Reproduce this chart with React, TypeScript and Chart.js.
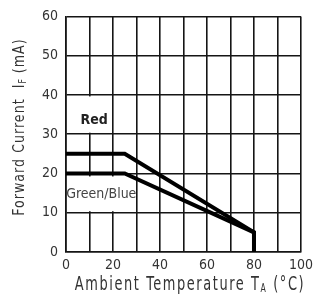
import React, { useEffect, useRef } from "react";
import { Chart, registerables } from "chart.js";

Chart.register(...registerables);

const temperatures = [0, 25, 80, 80];
const redCurrent = [25, 25, 5, 0];
const greenBlueCurrent = [20, 20, 5, 0];
const xTickValues = [0, 20, 40, 60, 80, 100];
const seriesLabels = ["Red", "Green/Blue"];

const FONT = '"DejaVu Sans Condensed", "Liberation Sans Narrow", "DejaVu Sans", sans-serif';

function drawSegs(ctx: CanvasRenderingContext2D, segs: { t: string; sub?: boolean }[], size: number, spacing: number, sx: number) {
  ctx.scale(sx, 1);
  const parts = segs.map((s) => {
    ctx.font = `${s.sub ? Math.round(size * 0.6) : size}px ${FONT}`;
    (ctx as any).letterSpacing = `${spacing}px`;
    return { ...s, w: ctx.measureText(s.t).width };
  });
  const total = parts.reduce((a, p) => a + p.w, 0);
  let x = -total / 2;
  for (const p of parts) {
    ctx.font = `${p.sub ? Math.round(size * 0.6) : size}px ${FONT}`;
    (ctx as any).letterSpacing = `${spacing}px`;
    ctx.textBaseline = "middle";
    ctx.textAlign = "left";
    ctx.fillText(p.t, x, p.sub ? size * 0.2 : 0);
    x += p.w;
  }
  (ctx as any).letterSpacing = "0px";
}

const annotations = {
  id: "annotations",
  beforeDatasetsDraw(chart: any) {
    const { ctx, scales } = chart;
    const x = scales.x, y = scales.y;
    ctx.save();
    ctx.fillStyle = "#fff";
    ctx.fillRect(x.getPixelForValue(0) + 1.5, y.getPixelForValue(40) + 1.5, x.getPixelForValue(20) - x.getPixelForValue(0) - 3, y.getPixelForValue(30) - y.getPixelForValue(40) - 3);
    ctx.fillRect(x.getPixelForValue(0) + 1.5, y.getPixelForValue(20) + 3, x.getPixelForValue(30) - x.getPixelForValue(0) - 3, y.getPixelForValue(10) - y.getPixelForValue(20) - 4.5);
    ctx.textAlign = "center";
    ctx.textBaseline = "middle";
    ctx.fillStyle = "#222";
    ctx.font = `bold 14px ${FONT}`;
    ctx.fillText(seriesLabels[0], x.getPixelForValue(12), y.getPixelForValue(33.5));
    ctx.fillStyle = "#444";
    ctx.font = `14px ${FONT}`;
    ctx.fillText(seriesLabels[1], x.getPixelForValue(15), y.getPixelForValue(14.8));
    ctx.restore();
  },
  afterDraw(chart: any) {
    const { ctx } = chart;
    ctx.save();
    ctx.fillStyle = "#333";
    ctx.translate(190, 285);
    drawSegs(ctx, [{ t: "Ambient Temperature T" }, { t: "A", sub: true }, { t: " (°C)" }], 20, 2.2, 0.72);
    ctx.restore();
    ctx.save();
    ctx.fillStyle = "#333";
    ctx.translate(20, 127);
    ctx.rotate(-Math.PI / 2);
    drawSegs(ctx, [{ t: "Forward Current  I" }, { t: "F", sub: true }, { t: " (mA)" }], 16.5, 1.2, 0.85);
    ctx.restore();
  },
};

export default function App() {
  const ref = useRef<HTMLCanvasElement>(null);
  useEffect(() => {
    document.body.style.margin = "0";
    const mk = (ys: number[]) => temperatures.map((t, i) => ({ x: t, y: ys[i] }));
    const chart = new Chart(ref.current!, {
      type: "line",
      data: {
        datasets: [
          { label: seriesLabels[0], data: mk(redCurrent), borderColor: "#000", borderWidth: 4, pointRadius: 0, fill: false, tension: 0, clip: false as any },
          { label: seriesLabels[1], data: mk(greenBlueCurrent), borderColor: "#000", borderWidth: 4, pointRadius: 0, fill: false, tension: 0, clip: false as any },
        ],
      },
      options: {
        animation: false,
        responsive: false,
        layout: { padding: { left: 0, top: 13, right: 13, bottom: 0 } },
        plugins: { legend: { display: false }, tooltip: { enabled: false } },
        scales: {
          x: {
            type: "linear",
            min: 0,
            max: 100,
            afterFit: (s: any) => { s.height = 52; },
            afterBuildTicks: (s: any) => {
              const t = [];
              for (let v = 0; v <= 100; v += 10) t.push({ value: v });
              s.ticks = t;
            },
            ticks: {
              autoSkip: false,
              maxRotation: 0,
              padding: 5,
              color: "#333",
              font: { family: FONT, size: 14 },
              callback: (v: any) => (xTickValues.includes(v) ? String(v) : ""),
            },
            grid: { color: "#151515", lineWidth: 1.6, drawTicks: false },
            border: { color: "#151515", width: 1.6 },
          },
          y: {
            min: 0,
            max: 60,
            afterFit: (s: any) => { s.width = 66; },
            ticks: { stepSize: 10, padding: 8, color: "#333", font: { family: FONT, size: 14 } },
            grid: { color: "#151515", lineWidth: 1.6, drawTicks: false },
            border: { color: "#151515", width: 1.6 },
          },
        },
      },
      plugins: [annotations],
    });
    return () => chart.destroy();
  }, []);
  return (
    <div style={{ width: 318, height: 304 }}>
      <canvas ref={ref} width={318} height={304} style={{ display: "block" }} />
    </div>
  );
}
